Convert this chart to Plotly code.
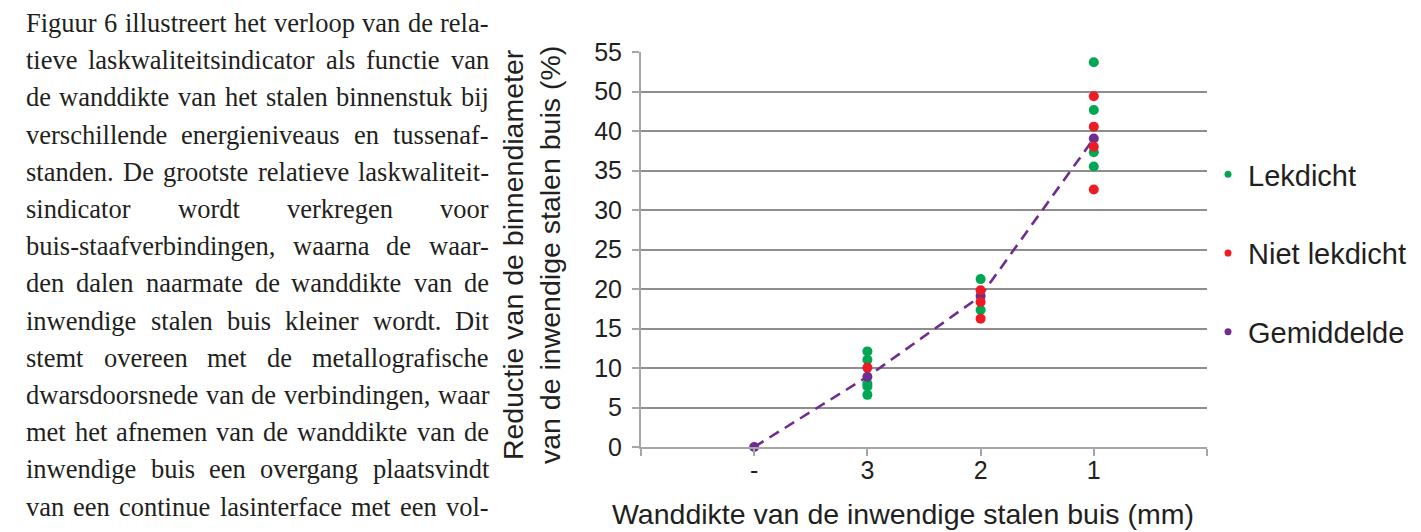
import plotly.graph_objects as go

# ---------------- data ----------------
categories = ["-", "3", "2", "1"]          # wanddikte (mm)

lekdicht_cat = ["3", "3", "3", "3", "3", "2", "2", "1", "1", "1", "1"]
lekdicht_val = [12.1, 11.05, 8.0, 7.65, 6.6, 21.25, 17.35, 48.7, 42.65, 37.3, 35.5]

niet_cat = ["3", "2", "2", "2", "1", "1", "1", "1"]
niet_val = [10.05, 19.85, 18.35, 16.25, 44.4, 40.55, 38.0, 32.6]

gem_cat = ["-", "3", "2", "1"]
gem_val = [0.0, 8.9, 19.1, 39.05]

y_tickvals = [0, 5, 10, 15, 20, 25, 30, 35, 40, 45, 50]
y_ticktext = ["0", "5", "10", "15", "20", "25", "30", "35", "40", "50", "55"]

x_title = "Wanddikte van de inwendige stalen buis (mm)"
y_title = "Reductie van de binnendiameter<br>van de inwendige stalen buis (%)"

paragraph_lines = [
    "Figuur 6 illustreert het verloop van de rela-",
    "tieve laskwaliteitsindicator als functie van",
    "de wanddikte van het stalen binnenstuk bij",
    "verschillende energieniveaus en tussenaf-",
    "standen. De grootste relatieve laskwaliteit-",
    "sindicator wordt verkregen voor",
    "buis-staafverbindingen, waarna de waar-",
    "den dalen naarmate de wanddikte van de",
    "inwendige stalen buis kleiner wordt. Dit",
    "stemt overeen met de metallografische",
    "dwarsdoorsnede van de verbindingen, waar",
    "met het afnemen van de wanddikte van de",
    "inwendige buis een overgang plaatsvindt",
    "van een continue lasinterface met een vol-",
]

# ---------------- layout constants ----------------
W, H = 1421, 532
PL, PR, PT, PB = 641, 1207, 52, 447   # plot area in pixels

pos = {c: i + 1 for i, c in enumerate(categories)}
x_tickvals = list(range(len(categories) + 2))
x_ticktext = [""] + categories + [""]

GREEN, RED, PURPLE = "#00a651", "#ed1c24", "#6f2c91"
TXT = "#231f20"
GRID = "#8e8e8e"
AX = "#a6a6a6"
SANS = "Liberation Sans, Arial, Helvetica, sans-serif"
SERIF = "Liberation Serif, Times New Roman, serif"


def px_x(p):
    return p / W


def px_y(p):
    return 1 - p / H


fig = go.Figure()

fig.add_trace(go.Scatter(
    x=[pos[c] for c in lekdicht_cat], y=lekdicht_val, mode="markers",
    marker=dict(color=GREEN, size=10), showlegend=False, cliponaxis=False))
fig.add_trace(go.Scatter(
    x=[pos[c] for c in gem_cat], y=gem_val, mode="lines+markers",
    line=dict(color=PURPLE, width=2.6, dash="11px,7px"),
    marker=dict(color=PURPLE, size=10), showlegend=False, cliponaxis=False))
fig.add_trace(go.Scatter(
    x=[pos[c] for c in niet_cat], y=niet_val, mode="markers",
    marker=dict(color=RED, size=10), showlegend=False, cliponaxis=False))

# legend entries (dots only)
for name, col in [("Lekdicht", GREEN), ("Niet lekdicht", RED), ("Gemiddelde", PURPLE)]:
    fig.add_trace(go.Scatter(x=[None], y=[None], mode="markers", name=name,
                             legendgroup=name,
                             marker=dict(color=col, size=7)))

# ---------------- paragraph (justified, word by word) ----------------
TIMES = {
    'a': 444, 'b': 500, 'c': 444, 'd': 500, 'e': 444, 'f': 333, 'g': 500, 'h': 500,
    'i': 278, 'j': 278, 'k': 500, 'l': 278, 'm': 778, 'n': 500, 'o': 500, 'p': 500,
    'q': 500, 'r': 333, 's': 389, 't': 278, 'u': 500, 'v': 500, 'w': 722, 'x': 500,
    'y': 500, 'z': 444, 'D': 722, 'F': 556, '6': 500, '-': 333, '.': 250, ',': 250,
}
FS = 26.5
X0, X1 = 25, 488
BASE0, LSTEP = 31, 37.2

annotations = []
for i, line in enumerate(paragraph_lines):
    words = line.split()
    widths = [sum(TIMES.get(ch, 500) for ch in w) * FS / 1000 for w in words]
    gap = (X1 - X0 - sum(widths)) / (len(words) - 1)
    ycen = BASE0 + LSTEP * i - 8
    xcur = X0
    for j, w in enumerate(words):
        annotations.append(dict(
            text=w, xref="paper", yref="paper",
            x=px_x(xcur), y=px_y(ycen),
            xanchor="left", yanchor="middle", borderpad=0,
            showarrow=False, font=dict(family=SERIF, size=FS, color=TXT)))
        xcur += widths[j] + gap

# axis titles
annotations.append(dict(text=x_title, xref="paper", yref="paper",
                        x=px_x(903), y=px_y(514), xanchor="center", yanchor="middle",
                        showarrow=False, font=dict(family=SANS, size=28.5, color=TXT)))
annotations.append(dict(text=y_title, xref="paper", yref="paper", textangle=-90,
                        x=px_x(531), y=px_y(255), xanchor="center", yanchor="middle",
                        showarrow=False, font=dict(family=SANS, size=28.5, color=TXT)))

fig.update_layout(
    width=W, height=H,
    margin=dict(l=0, r=0, t=0, b=0, autoexpand=False),
    paper_bgcolor="white", plot_bgcolor="white",
    showlegend=True,
    legend=dict(x=px_x(1208), y=px_y(149), xanchor="left", yanchor="top",
                font=dict(family=SANS, size=29, color=TXT),
                tracegroupgap=38, bgcolor="rgba(0,0,0,0)"),
    annotations=annotations,
    xaxis=dict(domain=[px_x(PL), px_x(PR)], range=[0, len(categories) + 1],
               tickmode="array", tickvals=x_tickvals, ticktext=x_ticktext,
               showgrid=False, zeroline=False, showline=True, linecolor=AX, linewidth=2,
               ticks="outside", ticklen=7, tickcolor=AX, tickwidth=1.5, automargin=False,
               ticklabelstandoff=-7,
               tickfont=dict(family=SANS, size=25, color=TXT)),
    yaxis=dict(domain=[px_y(PB), px_y(PT)], range=[0, 50],
               tickmode="array", tickvals=y_tickvals, ticktext=y_ticktext,
               showgrid=True, gridcolor=GRID, gridwidth=1.5, zeroline=False,
               showline=True, linecolor=AX, linewidth=2,
               ticks="outside", ticklen=7, tickcolor=AX, tickwidth=1.5, automargin=False,
               ticklabelstandoff=5,
               tickfont=dict(family=SANS, size=25, color=TXT)),
)

fig.write_html("out.html", config={"displayModeBar": False},
               post_script="document.body.style.margin='0';document.body.style.overflow='hidden';")
